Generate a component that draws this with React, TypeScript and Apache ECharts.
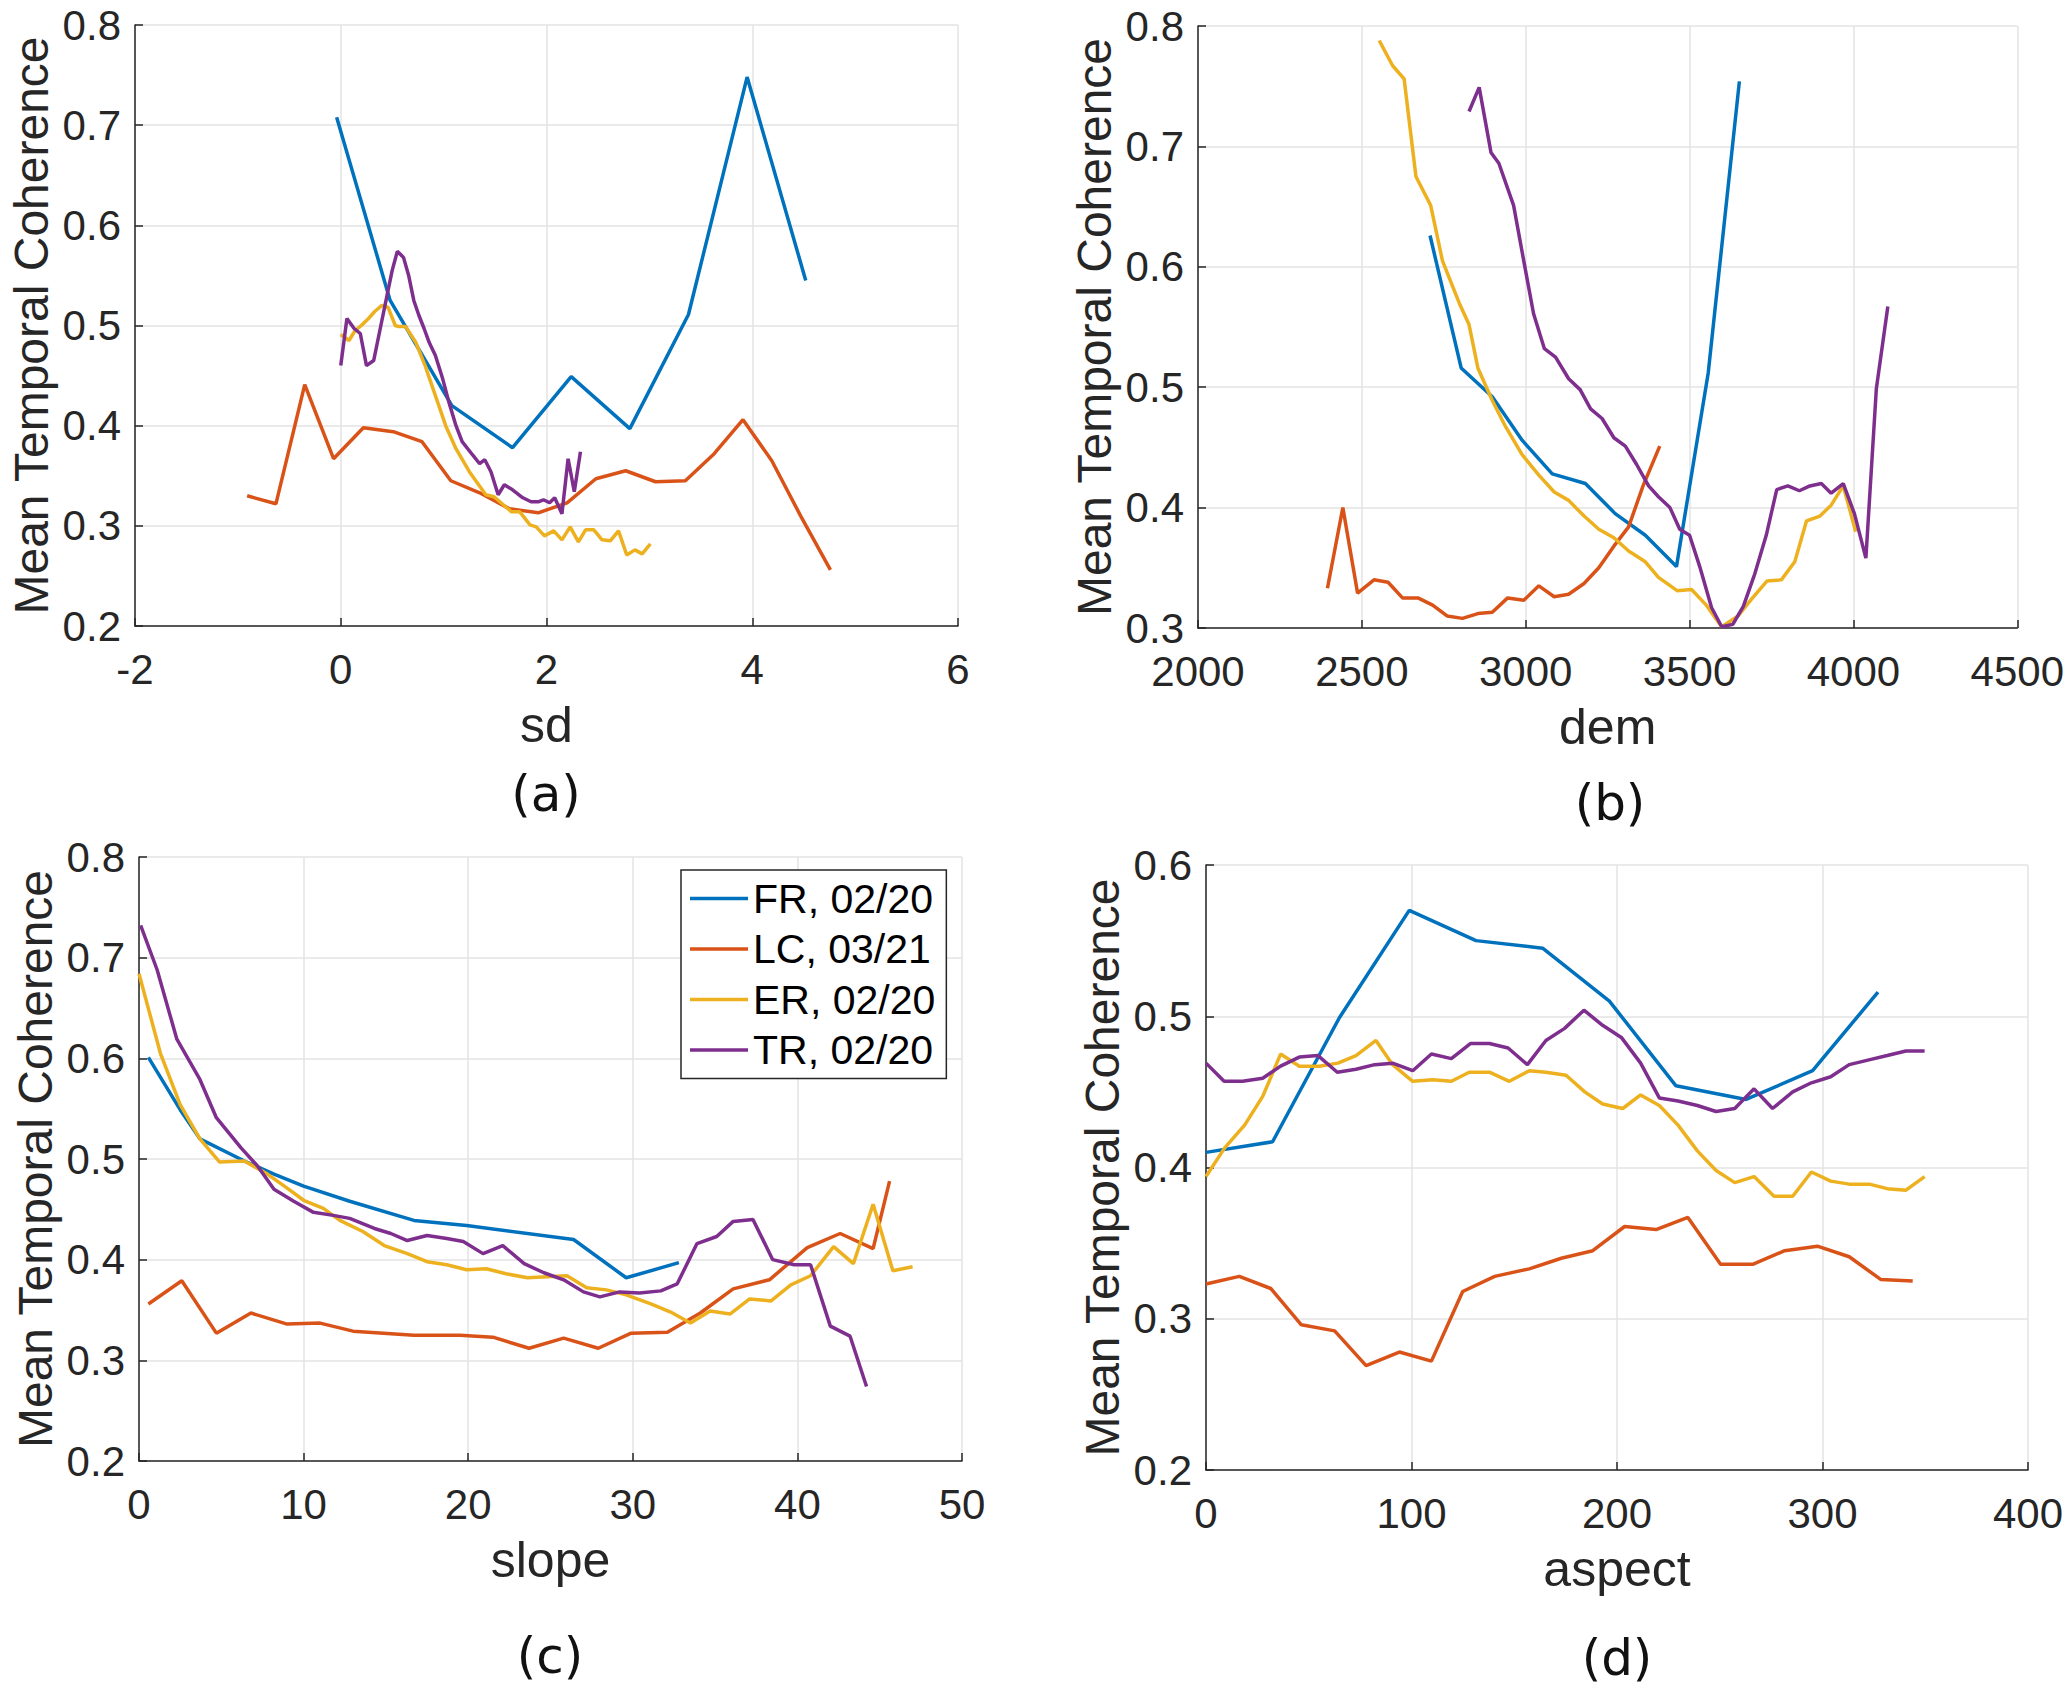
import React, { useEffect, useRef } from 'react';
import * as echarts from 'echarts';

const SERIES_NAMES = ['FR, 02/20', 'LC, 03/21', 'ER, 02/20', 'TR, 02/20'];
const COLORS = ['#0072BD', '#D95319', '#EDB120', '#7E2F8E'];
const PANEL_LABELS = ['(a)', '(b)', '(c)', '(d)'];
const X_NAMES = ['sd', 'dem', 'slope', 'aspect'];
const Y_NAME = 'Mean Temporal Coherence';

// panel (a): sd
const sdFR = [[-0.04, 0.708], [0.48, 0.525], [1.08, 0.42], [1.67, 0.378], [2.24, 0.449], [2.81, 0.397], [3.38, 0.511], [3.95, 0.748], [4.52, 0.545]];
const sdLC = [[-0.91, 0.33], [-0.63, 0.322], [-0.35, 0.441], [-0.07, 0.367], [0.22, 0.398], [0.51, 0.394], [0.79, 0.384], [1.07, 0.345], [1.35, 0.333], [1.64, 0.317], [1.92, 0.313], [2.2, 0.323], [2.48, 0.347], [2.77, 0.355], [3.06, 0.344], [3.35, 0.345], [3.63, 0.372], [3.91, 0.406], [4.19, 0.365], [4.47, 0.31], [4.76, 0.256]];
const sdER = [[0.0, 0.491], [0.08, 0.485], [0.14, 0.495], [0.2, 0.5], [0.27, 0.507], [0.33, 0.514], [0.4, 0.52], [0.46, 0.518], [0.53, 0.5], [0.56, 0.499], [0.63, 0.499], [0.73, 0.483], [0.82, 0.46], [0.92, 0.43], [1.02, 0.4], [1.12, 0.377], [1.25, 0.354], [1.41, 0.331], [1.49, 0.329], [1.58, 0.321], [1.66, 0.314], [1.74, 0.314], [1.84, 0.301], [1.9, 0.299], [1.98, 0.29], [2.07, 0.295], [2.15, 0.286], [2.23, 0.299], [2.31, 0.284], [2.38, 0.296], [2.46, 0.296], [2.54, 0.286], [2.62, 0.285], [2.7, 0.295], [2.78, 0.271], [2.86, 0.276], [2.93, 0.272], [3.01, 0.282]];
const sdTR = [[0.0, 0.46], [0.06, 0.507], [0.13, 0.497], [0.19, 0.492], [0.25, 0.46], [0.32, 0.465], [0.38, 0.495], [0.45, 0.53], [0.5, 0.555], [0.55, 0.574], [0.61, 0.568], [0.66, 0.55], [0.71, 0.525], [0.76, 0.51], [0.81, 0.497], [0.86, 0.483], [0.92, 0.47], [0.99, 0.447], [1.05, 0.424], [1.12, 0.4], [1.18, 0.384], [1.28, 0.371], [1.35, 0.362], [1.4, 0.366], [1.46, 0.354], [1.53, 0.331], [1.59, 0.341], [1.67, 0.336], [1.77, 0.328], [1.85, 0.324], [1.92, 0.324], [1.97, 0.326], [2.03, 0.323], [2.08, 0.328], [2.15, 0.312], [2.21, 0.367], [2.27, 0.334], [2.33, 0.374]];

// panel (b): dem
const demFR = [[2708, 0.626], [2803, 0.516], [2898, 0.492], [2989, 0.456], [3081, 0.428], [3182, 0.42], [3273, 0.395], [3365, 0.377], [3460, 0.351], [3557, 0.512], [3652, 0.754]];
const demLC = [[2395, 0.333], [2442, 0.4], [2487, 0.329], [2537, 0.34], [2580, 0.338], [2624, 0.325], [2671, 0.325], [2716, 0.319], [2760, 0.31], [2807, 0.308], [2854, 0.312], [2898, 0.313], [2945, 0.325], [2994, 0.323], [3040, 0.335], [3087, 0.326], [3131, 0.328], [3178, 0.337], [3223, 0.35], [3269, 0.368], [3314, 0.384], [3358, 0.418], [3409, 0.451]];
const demER = [[2553, 0.788], [2594, 0.767], [2629, 0.756], [2665, 0.675], [2710, 0.651], [2746, 0.605], [2797, 0.57], [2827, 0.552], [2854, 0.516], [2898, 0.489], [2939, 0.467], [2989, 0.444], [3040, 0.427], [3087, 0.413], [3131, 0.406], [3178, 0.393], [3223, 0.382], [3269, 0.375], [3314, 0.364], [3365, 0.355], [3405, 0.342], [3462, 0.331], [3506, 0.332], [3551, 0.319], [3598, 0.301], [3648, 0.31], [3689, 0.324], [3736, 0.339], [3780, 0.34], [3821, 0.355], [3857, 0.389], [3898, 0.393], [3932, 0.402], [3969, 0.418], [4007, 0.38]];
const demTR = [[2827, 0.729], [2858, 0.749], [2894, 0.695], [2918, 0.686], [2963, 0.651], [2996, 0.602], [3024, 0.561], [3057, 0.532], [3091, 0.525], [3131, 0.507], [3166, 0.498], [3198, 0.482], [3233, 0.474], [3269, 0.458], [3304, 0.451], [3338, 0.436], [3375, 0.418], [3405, 0.409], [3440, 0.4], [3470, 0.382], [3500, 0.377], [3531, 0.351], [3567, 0.317], [3598, 0.301], [3632, 0.303], [3664, 0.318], [3699, 0.345], [3734, 0.377], [3766, 0.415], [3800, 0.418], [3835, 0.414], [3867, 0.418], [3902, 0.42], [3932, 0.412], [3969, 0.42], [4003, 0.395], [4038, 0.358], [4070, 0.499], [4105, 0.567]];

// panel (c): slope
const slopeFR = [[0.57, 0.601], [2.5, 0.549], [3.7, 0.52], [6.4, 0.498], [8.2, 0.485], [10, 0.473], [12.8, 0.458], [16.7, 0.439], [19.9, 0.434], [26.4, 0.42], [29.6, 0.382], [32.8, 0.397]];
const slopeLC = [[0.57, 0.356], [2.6, 0.379], [4.7, 0.327], [6.8, 0.347], [9.0, 0.336], [11.0, 0.337], [13.0, 0.329], [16.7, 0.325], [19.5, 0.325], [21.5, 0.323], [23.7, 0.312], [25.8, 0.322], [27.9, 0.312], [29.9, 0.327], [32.1, 0.328], [34.1, 0.347], [36.1, 0.371], [38.3, 0.38], [40.6, 0.412], [42.6, 0.426], [44.6, 0.411], [45.6, 0.478]];
const slopeER = [[0, 0.684], [1.3, 0.605], [2.5, 0.554], [3.7, 0.52], [4.9, 0.497], [6.4, 0.498], [7.8, 0.485], [9.0, 0.471], [10, 0.459], [11.2, 0.451], [12.2, 0.439], [13.6, 0.428], [14.9, 0.414], [16.3, 0.406], [17.5, 0.398], [18.7, 0.395], [19.9, 0.39], [21.1, 0.391], [22.3, 0.386], [23.6, 0.382], [24.8, 0.383], [26.0, 0.384], [27.2, 0.372], [28.4, 0.37], [29.6, 0.365], [31.1, 0.356], [32.3, 0.348], [33.5, 0.337], [34.7, 0.349], [35.9, 0.346], [37.1, 0.361], [38.4, 0.359], [39.6, 0.375], [40.8, 0.384], [42.2, 0.413], [43.4, 0.396], [44.6, 0.455], [45.8, 0.389], [47.0, 0.393]];
const slopeTR = [[0.1, 0.732], [1.1, 0.688], [2.3, 0.619], [3.7, 0.579], [4.7, 0.541], [6.2, 0.511], [7.2, 0.493], [8.2, 0.47], [9.4, 0.458], [10.6, 0.447], [11.8, 0.444], [12.8, 0.441], [14.3, 0.431], [15.3, 0.426], [16.3, 0.419], [17.5, 0.424], [18.7, 0.421], [19.7, 0.418], [20.9, 0.406], [22.1, 0.414], [23.4, 0.396], [24.6, 0.387], [25.8, 0.38], [27.0, 0.368], [28.0, 0.363], [29.2, 0.368], [30.4, 0.367], [31.7, 0.369], [32.7, 0.376], [33.9, 0.416], [35.1, 0.423], [36.1, 0.438], [37.3, 0.44], [38.5, 0.4], [39.8, 0.395], [40.8, 0.395], [42.0, 0.334], [43.2, 0.324], [44.2, 0.274]];

// panel (d): aspect
const aspectFR = [[0, 0.41], [32.4, 0.417], [64.9, 0.499], [98.9, 0.57], [131.4, 0.55], [163.8, 0.545], [196.3, 0.51], [228.7, 0.454], [262.8, 0.445], [295.2, 0.464], [327.0, 0.516]];
const aspectLC = [[0, 0.323], [16.2, 0.328], [31.5, 0.32], [46.4, 0.296], [62.6, 0.292], [77.9, 0.269], [94.1, 0.278], [109.7, 0.272], [124.9, 0.318], [140.5, 0.328], [157.3, 0.333], [172.9, 0.34], [188.2, 0.345], [203.7, 0.361], [219.0, 0.359], [234.5, 0.367], [250.4, 0.336], [266.0, 0.336], [281.6, 0.345], [297.5, 0.348], [313.0, 0.341], [328.3, 0.326], [343.9, 0.325]];
const aspectER = [[0, 0.394], [9.1, 0.413], [18.8, 0.428], [27.6, 0.447], [36.3, 0.475], [45.4, 0.467], [55.1, 0.467], [64.2, 0.469], [73.0, 0.474], [82.7, 0.484], [90.8, 0.468], [100.6, 0.457], [110.3, 0.458], [119.4, 0.457], [128.1, 0.463], [137.9, 0.463], [147.6, 0.457], [157.3, 0.464], [165.4, 0.463], [175.2, 0.461], [184.3, 0.45], [193.0, 0.442], [202.8, 0.439], [211.5, 0.448], [220.6, 0.441], [229.7, 0.428], [239.1, 0.411], [248.2, 0.398], [257.3, 0.39], [266.7, 0.394], [276.4, 0.381], [285.5, 0.381], [294.6, 0.397], [304.0, 0.391], [313.0, 0.389], [322.8, 0.389], [331.5, 0.386], [340.6, 0.385], [349.7, 0.394]];
const aspectTR = [[0, 0.469], [8.8, 0.457], [17.8, 0.457], [27.6, 0.459], [36.3, 0.467], [45.4, 0.473], [54.5, 0.474], [63.9, 0.463], [73.0, 0.465], [82.1, 0.468], [90.8, 0.469], [100.6, 0.464], [109.7, 0.475], [119.4, 0.472], [128.8, 0.482], [137.9, 0.482], [147.0, 0.479], [156.4, 0.468], [165.4, 0.484], [174.5, 0.492], [183.9, 0.504], [193.0, 0.494], [202.1, 0.486], [211.5, 0.469], [220.6, 0.446], [229.7, 0.444], [239.1, 0.441], [248.2, 0.437], [257.3, 0.439], [266.7, 0.452], [275.7, 0.439], [285.5, 0.45], [294.6, 0.456], [304.0, 0.46], [313.0, 0.468], [322.1, 0.471], [331.5, 0.474], [340.6, 0.477], [349.7, 0.477]];

const PANEL_DATA = [
  [sdFR, sdLC, sdER, sdTR],
  [demFR, demLC, demER, demTR],
  [slopeFR, slopeLC, slopeER, slopeTR],
  [aspectFR, aspectLC, aspectER, aspectTR],
];

// axis ranges [min, max, interval]
const X_RANGES = [[-2, 6, 2], [2000, 4500, 500], [0, 50, 10], [0, 400, 100]];
const Y_RANGES = [[0.2, 0.8, 0.1], [0.3, 0.8, 0.1], [0.2, 0.8, 0.1], [0.2, 0.6, 0.1]];

const GRIDS = [
  { left: 135, top: 25, width: 823, height: 601 },
  { left: 1198, top: 26, width: 822, height: 602 },
  { left: 139, top: 857, width: 823, height: 604 },
  { left: 1206, top: 865, width: 822, height: 605 },
];
const LABEL_POS = [[546, 794], [1610, 803], [550, 1656], [1617, 1658]];

const FONT = 'Liberation Sans, Arial, sans-serif';
const AXIS_COLOR = '#262626';

export default function App() {
  const chartRef = useRef<HTMLDivElement>(null);

  useEffect(() => {
    if (!chartRef.current) return;
    const chart = echarts.init(chartRef.current, null, { renderer: 'svg' });

    const xAxis = X_RANGES.map(([min, max, interval], i) => ({
      type: 'value',
      gridIndex: i,
      min,
      max,
      interval,
      name: X_NAMES[i],
      nameLocation: 'middle',
      nameGap: 74,
      nameTextStyle: { fontSize: 50, fontFamily: FONT, color: AXIS_COLOR },
      axisLine: { show: true, onZero: false, lineStyle: { color: AXIS_COLOR, width: 1.5 } },
      axisTick: { show: true, inside: true, length: 8, lineStyle: { color: AXIS_COLOR, width: 1.5 } },
      axisLabel: {
        fontSize: 42,
        lineHeight: 34,
        fontFamily: FONT,
        color: AXIS_COLOR,
        margin: 26,
        formatter: (v: number) => String(v),
      },
      splitLine: { show: true, lineStyle: { color: '#e3e3e3', width: 1.5 } },
    }));

    const yAxis = Y_RANGES.map(([min, max, interval], i) => ({
      type: 'value',
      gridIndex: i,
      min,
      max,
      interval,
      name: Y_NAME,
      nameLocation: 'middle',
      nameGap: 80,
      nameTextStyle: { fontSize: 48, fontFamily: FONT, color: AXIS_COLOR },
      axisLine: { show: true, onZero: false, lineStyle: { color: AXIS_COLOR, width: 1.5 } },
      axisTick: { show: true, inside: true, length: 8, lineStyle: { color: AXIS_COLOR, width: 1.5 } },
      axisLabel: {
        fontSize: 42,
        lineHeight: 34,
        fontFamily: FONT,
        color: AXIS_COLOR,
        margin: 14,
        formatter: (v: number) => v.toFixed(1),
      },
      splitLine: { show: true, lineStyle: { color: '#e3e3e3', width: 1.5 } },
    }));

    const series: any[] = [];
    PANEL_DATA.forEach((panel, p) => {
      panel.forEach((data, s) => {
        series.push({
          name: SERIES_NAMES[s],
          type: 'line',
          xAxisIndex: p,
          yAxisIndex: p,
          data,
          symbol: 'none',
          showSymbol: false,
          lineStyle: { color: COLORS[s], width: 3.5 },
          itemStyle: { color: COLORS[s] },
        });
      });
    });

    const option = {
      animation: false,
      grid: GRIDS.map((g) => ({ ...g, containLabel: false })),
      xAxis,
      yAxis,
      legend: {
        data: SERIES_NAMES,
        orient: 'vertical',
        left: 681,
        top: 870,
        padding: [8, 11, 8, 9],
        borderColor: AXIS_COLOR,
        borderWidth: 1.5,
        backgroundColor: '#fff',
        icon: 'rect',
        itemWidth: 58,
        itemHeight: 3.5,
        itemGap: 9.5,
        selectedMode: false,
        textStyle: { fontSize: 41, fontFamily: FONT, color: '#000', lineHeight: 41 },
      },
      graphic: PANEL_LABELS.map((text, i) => ({
        type: 'text',
        x: LABEL_POS[i][0],
        y: LABEL_POS[i][1],
        style: {
          text,
          fill: '#111',
          fontSize: 50,
          fontFamily: 'DejaVu Sans',
          align: 'center',
          verticalAlign: 'middle',
        },
      })),
      series,
    };

    chart.setOption(option);
    return () => {
      chart.dispose();
    };
  }, []);

  return (
    <div
      ref={chartRef}
      style={{ position: 'absolute', left: 0, top: 0, width: '2067px', height: '1691px', background: '#fff' }}
    />
  );
}
